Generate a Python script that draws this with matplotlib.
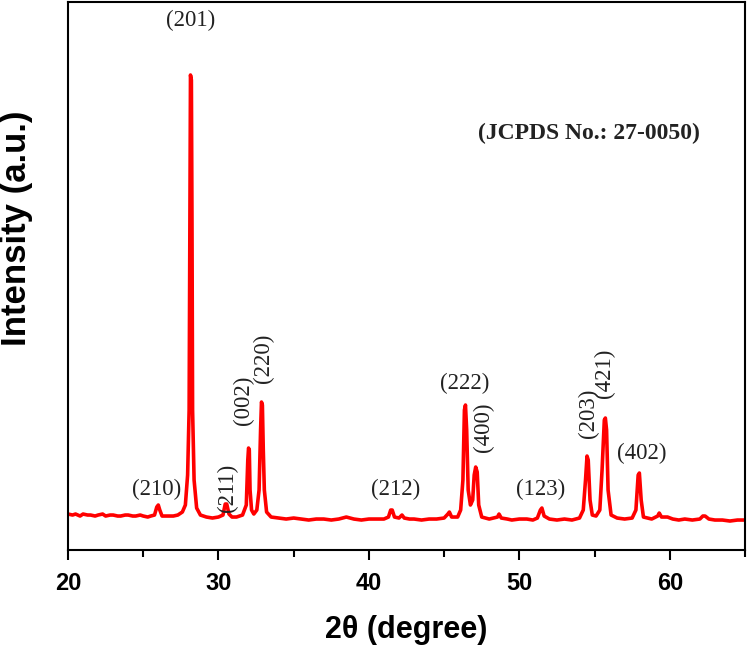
import matplotlib
matplotlib.use("Agg")
import matplotlib.pyplot as plt
from matplotlib.ticker import MultipleLocator

two_theta = [20.0, 20.3, 20.5, 20.8, 21.0, 21.3, 21.5, 21.8, 22.0, 22.3, 22.5, 22.8,
             23.0, 23.3, 23.5, 23.8, 24.0, 24.3, 24.5, 24.8, 25.0, 25.3, 25.5,
             25.75, 25.9, 26.0, 26.1, 26.25,
             26.6, 27.0, 27.3, 27.6, 27.8, 27.95, 28.05, 28.1, 28.14, 28.2, 28.24, 28.28,
             28.38, 28.55, 28.8, 29.2, 29.6, 30.0,
             30.3, 30.45, 30.55, 30.7, 30.9,
             31.2, 31.6, 31.85, 31.95, 32.0, 32.05, 32.1, 32.2, 32.35,
             32.55, 32.7, 32.8, 32.86, 32.92, 32.98, 33.05, 33.2, 33.5, 34.0, 34.5, 35.0,
             35.5, 36.0, 36.5, 37.0, 37.5, 38.0, 38.5, 39.0, 39.5, 40.0, 40.5, 41.0,
             41.3, 41.45, 41.55, 41.7, 42.0, 42.2, 42.35, 42.7, 43.0, 43.5, 44.0, 44.5, 45.0,
             45.25, 45.35, 45.5, 45.9, 46.1, 46.25, 46.35, 46.42, 46.5, 46.6, 46.75, 46.9,
             47.0, 47.1, 47.2, 47.3, 47.5, 48.0, 48.55, 48.65, 48.8, 49.2, 49.5, 50.0,
             50.5, 50.9, 51.2,
             51.4, 51.5, 51.65, 52.0, 52.5, 53.0, 53.5, 54.0, 54.25, 54.4, 54.5, 54.58,
             54.7, 54.85,
             55.1, 55.35, 55.5, 55.65, 55.72, 55.8, 55.9, 56.1, 56.5, 57.0, 57.5, 57.75,
             57.9, 57.98, 58.1, 58.25, 58.8, 59.2, 59.3, 59.45, 59.85, 60.2, 60.6, 61.0,
             61.5, 62.0, 62.2, 62.35, 62.6, 63.0, 63.5, 64.0, 64.5, 65.0]
intensity = [36, 35, 36, 34, 36, 35, 35, 34, 35, 36, 34, 35,
             35, 34, 34, 35, 35, 34, 34, 35, 34, 33, 34,
             35, 43, 45, 40, 34,
             34, 34, 35, 38, 45, 75, 140, 330, 475, 470, 330, 140,
             70, 42, 35, 33, 32, 33,
             35, 46, 46, 36, 33,
             33, 35, 45, 90, 102, 100, 60, 40, 36,
             40, 60, 120, 148, 145, 100, 60, 38, 33, 32, 31, 32,
             31, 30, 31, 31, 30, 31, 33, 31, 30, 31, 31, 31,
             33, 40, 40, 33, 32, 35, 32, 31, 31, 30, 31, 31, 32,
             36, 38, 33, 33, 40, 70, 140, 145, 120, 60, 45, 50,
             75, 83, 78, 45, 33, 31, 33, 36, 32, 31, 30, 31,
             31, 30, 32,
             40, 42, 34, 31, 30, 31, 30, 32, 40, 70, 94, 90,
             50, 35,
             34, 40, 80, 130, 132, 120, 60, 35, 32, 31, 32, 40,
             75, 77, 50, 33, 31, 34, 37, 33, 33, 31, 30, 31,
             30, 31, 34, 34, 31, 30, 30, 29, 30, 30]

# Miller index labels: text, x, y, rotation
hkl_labels = ["(210)", "(201)", "(211)", "(002)", "(220)", "(212)", "(222)",
              "(400)", "(123)", "(203)", "(421)", "(402)"]
hkl_x = [25.9, 28.17, 30.6, 31.63, 32.96, 41.8, 46.38, 47.64, 51.43, 54.62, 55.68, 58.14]
hkl_y = [61, 530, 62, 150, 192, 61, 167, 123, 61, 137, 177, 97]
hkl_rot = [0, 0, 90, 90, 90, 0, 0, 90, 0, 90, 90, 0]

fig = plt.figure(figsize=(7.5, 6.5), dpi=100)
ax = fig.add_axes([0.0907, 0.1538, 0.9026, 0.8431])
ax.plot(two_theta, intensity, color="#ff0000", lw=2.6, solid_joinstyle="round")

ax.set_xlim(20, 65)
ax.set_ylim(0, 548)
ax.xaxis.set_major_locator(MultipleLocator(10))
ax.xaxis.set_minor_locator(MultipleLocator(5))
ax.set_yticks([])
ax.tick_params(axis="x", which="major", direction="out", length=7, width=1.5,
               labelsize=17, pad=9)
ax.tick_params(axis="x", which="minor", direction="out", length=5, width=1.5)
for lab in ax.get_xticklabels():
    lab.set_fontweight("bold")
    lab.set_family("Liberation Sans")
for s in ax.spines.values():
    s.set_linewidth(1.5)

ax.set_xlabel("2θ (degree)", fontsize=22, fontweight="bold", family="Liberation Sans", labelpad=14)
ax.set_ylabel("Intensity (a.u.)", fontsize=25, fontweight="bold", family="Liberation Sans")
ax.yaxis.set_label_coords(-0.052, 0.588)

for t, x, y, r in zip(hkl_labels, hkl_x, hkl_y, hkl_rot):
    ax.text(x, y, t, rotation=r, ha="center", va="center", fontsize=16.5,
            family="Liberation Serif", color="#222222")

ax.text(54.62, 417, "(JCPDS No.: 27-0050)", ha="center", va="center", fontsize=17,
        family="Liberation Serif", fontweight="bold", color="#222222")

fig.savefig("out.png", dpi=100)
